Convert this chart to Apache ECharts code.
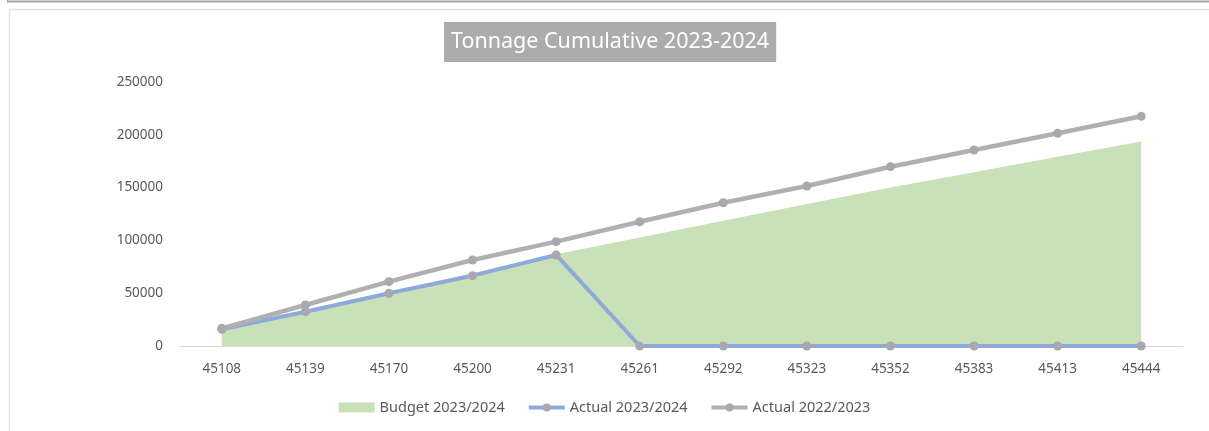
<!DOCTYPE html>
<html>
<head>
<meta charset="utf-8">
<script src="https://cdn.jsdelivr.net/npm/echarts@6/dist/echarts.min.js"></script>
<style>
html,body{margin:0;padding:0;background:#fff;}
#chart{width:1209px;height:431px;}
</style>
</head>
<body>
<div id="chart"></div>
<script>
const categories = ['45108','45139','45170','45200','45231','45261','45292','45323','45352','45383','45413','45444'];
const budget2324 = [15000, 33000, 51000, 69000, 86800, 102700, 118700, 134400, 150100, 164600, 179100, 193600];
const actual2324 = [15800, 32500, 49900, 66600, 86200, 0, 0, 0, 0, 0, 0, 0];
const actual2223 = [16700, 38800, 60900, 81400, 98800, 117700, 135700, 151500, 169800, 185600, 201400, 217500];
const yTicks = { min: 0, max: 250000, interval: 50000 };

const FONT = '"Noto Sans", "Open Sans", sans-serif';
const GREEN = '#c9e0b9', BLUE = '#8eaadb', GRAY = '#b0b0b3', MARK = '#a9a9ad';
const chart = echarts.init(document.getElementById('chart'), null, {renderer: 'canvas'});
chart.setOption({
  backgroundColor: '#ffffff',
  animation: false,
  graphic: [
    {type: 'line', shape: {x1: 7, y1: 1.5, x2: 1209, y2: 1.5}, style: {stroke: '#a6a6a6', lineWidth: 2}},
    {type: 'line', shape: {x1: 7.5, y1: 0, x2: 7.5, y2: 2.5}, style: {stroke: '#a6a6a6', lineWidth: 1}},
    {type: 'line', shape: {x1: 9.5, y1: 9.5, x2: 1209, y2: 9.5}, style: {stroke: '#e3e3e3', lineWidth: 1.5}},
    {type: 'line', shape: {x1: 9.5, y1: 9.5, x2: 9.5, y2: 431}, style: {stroke: '#e3e3e3', lineWidth: 1.5}}
  ],
  title: {
    text: 'Tonnage Cumulative 2023-2024',
    left: 444,
    top: 22,
    backgroundColor: '#acacae',
    padding: [9, 7, 9, 7],
    textStyle: {color: '#ffffff', fontSize: 21.5, fontWeight: 'normal', fontFamily: FONT, lineHeight: 22}
  },
  legend: {
    bottom: 11,
    left: 'center',
    itemWidth: 36,
    itemHeight: 10,
    itemGap: 22,
    textStyle: {color: '#595959', fontSize: 14.5, fontFamily: FONT},
    data: [
      {name: 'Budget 2023/2024', icon: 'rect'},
      {name: 'Actual 2023/2024', lineStyle: {width: 4, color: BLUE}},
      {name: 'Actual 2022/2023', lineStyle: {width: 4, color: GRAY}}
    ]
  },
  grid: {left: 180, right: 26, top: 82, bottom: 85, containLabel: false},
  xAxis: {
    type: 'category',
    data: categories,
    boundaryGap: true,
    axisLine: {show: true, lineStyle: {color: '#d9d9d9', width: 1}},
    axisTick: {show: false},
    axisLabel: {color: '#595959', fontSize: 13.5, fontFamily: FONT, margin: 16}
  },
  yAxis: {
    type: 'value',
    min: yTicks.min,
    max: yTicks.max,
    interval: yTicks.interval,
    axisLine: {show: false},
    axisTick: {show: false},
    splitLine: {show: false},
    axisLabel: {color: '#595959', fontSize: 13.5, fontFamily: FONT, margin: 17, formatter: v => String(v)}
  },
  series: [
    {
      name: 'Budget 2023/2024',
      type: 'line',
      data: budget2324,
      symbol: 'none',
      lineStyle: {width: 0, color: GREEN},
      itemStyle: {color: GREEN},
      areaStyle: {color: GREEN, opacity: 1},
      z: 1
    },
    {
      name: 'Actual 2023/2024',
      type: 'line',
      data: actual2324,
      symbol: 'circle',
      symbolSize: 9,
      lineStyle: {width: 4, color: BLUE},
      itemStyle: {color: MARK},
      z: 3
    },
    {
      name: 'Actual 2022/2023',
      type: 'line',
      data: actual2223,
      symbol: 'circle',
      symbolSize: 9,
      lineStyle: {width: 4.5, color: GRAY},
      itemStyle: {color: MARK},
      z: 4
    }
  ]
});
</script>
</body>
</html>
